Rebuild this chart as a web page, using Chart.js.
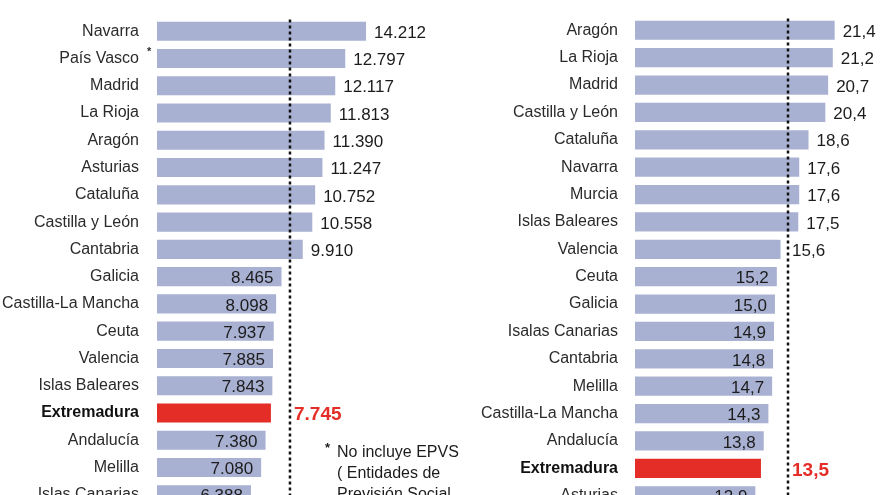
<!DOCTYPE html>
<html>
<head>
<meta charset="utf-8">
<script src="https://cdn.jsdelivr.net/npm/chart.js@4/dist/chart.umd.min.js"></script>
<style>
  html, body { margin: 0; padding: 0; background: #fff; overflow: hidden; }
  #wrap { position: relative; width: 880px; height: 495px; overflow: hidden; }
  canvas { position: absolute; top: -2px; }
  #left { left: 0; }
  #right { left: 440px; }
  #note {
    position: absolute; left: 325px; top: 441px;
    font: 16px 'Liberation Sans', Arial, sans-serif; line-height: 21px; color: #1c1c1c;
  }
  #note .star { position: absolute; left: 0; top: -4px; font-weight: bold; font-size: 13px; }
  #note .lines { margin-left: 12px; }
</style>
</head>
<body>
<div id="wrap">
  <canvas id="left" width="440" height="530"></canvas>
  <canvas id="right" width="440" height="530"></canvas>
  <div id="note"><span class="star">*</span><div class="lines" id="noteLines"></div></div>
</div>
<script>
// left panel: euros
var leftCategories = ["Navarra", "País Vasco", "Madrid", "La Rioja", "Aragón", "Asturias", "Cataluña",
  "Castilla y León", "Cantabria", "Galicia", "Castilla-La Mancha", "Ceuta", "Valencia",
  "Islas Baleares", "Extremadura", "Andalucía", "Melilla", "Islas Canarias"];
var leftValues = [14212, 12797, 12117, 11813, 11390, 11247, 10752, 10558, 9910, 8465, 8098,
  7937, 7885, 7843, 7745, 7380, 7080, 6388];
var leftAverage = 9040;

// right panel: percentage
var rightCategories = ["Aragón", "La Rioja", "Madrid", "Castilla y León", "Cataluña", "Navarra",
  "Murcia", "Islas Baleares", "Valencia", "Ceuta", "Galicia", "Isalas Canarias", "Cantabria",
  "Melilla", "Castilla-La Mancha", "Andalucía", "Extremadura", "Asturias"];
var rightValues = [21.4, 21.2, 20.7, 20.4, 18.6, 17.6, 17.6, 17.5, 15.6, 15.2, 15.0, 14.9,
  14.8, 14.7, 14.3, 13.8, 13.5, 12.9];
var rightAverage = 16.4;

var highlight = "Extremadura";
var footnote = ["No incluye EPVS", "( Entidades de", "Previsión Social"];

var BAR = "#a9b1d2";
var RED = "#e42d27";
var FONT = "'Liberation Sans', Arial, sans-serif";

document.getElementById("noteLines").innerHTML = footnote.join("<br>");

function fmtThousands(v) {
  return Math.round(v).toString().replace(/\B(?=(\d{3})+(?!\d))/g, ".");
}
function fmtDecimal(v) {
  return v.toFixed(1).replace(".", ",");
}

// draws dashed average line, value labels and notes
function overlayPlugin(cfg) {
  return {
    id: "overlay",
    afterDatasetsDraw: function(chart) {
      var ctx = chart.ctx;
      var xs = chart.scales.x, ys = chart.scales.y;
      var area = chart.chartArea;
      var dashX = xs.getPixelForValue(cfg.average);

      ctx.save();
      ctx.strokeStyle = "#111";
      ctx.lineWidth = 2.5;
      ctx.setLineDash([3, 3]);
      ctx.beginPath();
      ctx.moveTo(dashX, area.top + 2);
      ctx.lineTo(dashX, area.bottom);
      ctx.stroke();
      ctx.setLineDash([]);

      ctx.textBaseline = "middle";
      cfg.values.forEach(function(v, i) {
        var end = xs.getPixelForValue(v);
        var y = ys.getPixelForValue(i) + 2;
        var txt = cfg.fmt(v);
        if (cfg.categories[i] === highlight) {
          ctx.font = "bold 19px " + FONT;
          ctx.fillStyle = RED;
          ctx.textAlign = "left";
          ctx.fillText(txt, Math.max(end + 8, dashX + 4), y);
        } else if (v < cfg.insideBelow) {
          ctx.font = "17px " + FONT;
          ctx.fillStyle = "#1c1c1c";
          ctx.textAlign = "right";
          ctx.fillText(txt, end - 8, y);
        } else {
          ctx.font = "17px " + FONT;
          ctx.fillStyle = "#1c1c1c";
          ctx.textAlign = "left";
          ctx.fillText(txt, Math.max(end + 8, dashX + 4), y);
        }
      });

      if (cfg.extra) cfg.extra(chart, ctx);
      ctx.restore();
    }
  };
}

function makeChart(id, categories, values, cfg) {
  var colors = categories.map(function(c) { return c === highlight ? RED : BAR; });
  return new Chart(document.getElementById(id), {
    type: "bar",
    data: {
      labels: categories,
      datasets: [{
        data: values,
        backgroundColor: colors,
        borderWidth: 0,
        barPercentage: 0.7,
        categoryPercentage: 1
      }]
    },
    options: {
      indexAxis: "y",
      responsive: false,
      animation: false,
      layout: { padding: { top: 13.9, bottom: 8, left: 0, right: 0 } },
      plugins: { legend: { display: false }, tooltip: { enabled: false } },
      scales: {
        x: {
          display: false,
          min: 0,
          max: cfg.max
        },
        y: {
          grid: { display: false },
          border: { display: false },
          afterFit: function(scale) { scale.width = cfg.axisWidth; },
          ticks: {
            padding: cfg.tickPad,
            color: function(c) { return categories[c.index] === highlight ? "#111" : "#2b2b2b"; },
            font: function(c) {
              return categories[c.index] === highlight
                ? { family: FONT, size: 16, weight: "bold" }
                : { family: FONT, size: 16 };
            }
          }
        }
      }
    },
    plugins: [overlayPlugin({
      categories: categories,
      values: values,
      average: cfg.average,
      insideBelow: cfg.insideBelow,
      fmt: cfg.fmt,
      extra: cfg.extra
    })]
  });
}

makeChart("left", leftCategories, leftValues, {
  max: 19240,
  axisWidth: 157,
  tickPad: 10,
  average: leftAverage,
  insideBelow: 9000,
  fmt: fmtThousands,
  extra: function(chart, ctx) {
    // asterisk after País Vasco
    var iv = leftCategories.indexOf("País Vasco");
    ctx.fillStyle = "#2b2b2b";
    ctx.font = "bold 11px " + FONT;
    ctx.textAlign = "left";
    ctx.fillText("*", chart.chartArea.left - 10, chart.scales.y.getPixelForValue(iv) - 7);
  }
});

makeChart("right", rightCategories, rightValues, {
  max: 26.26,
  axisWidth: 195,
  tickPad: 9,
  average: rightAverage,
  insideBelow: 15.5,
  fmt: fmtDecimal
});
</script>
</body>
</html>
